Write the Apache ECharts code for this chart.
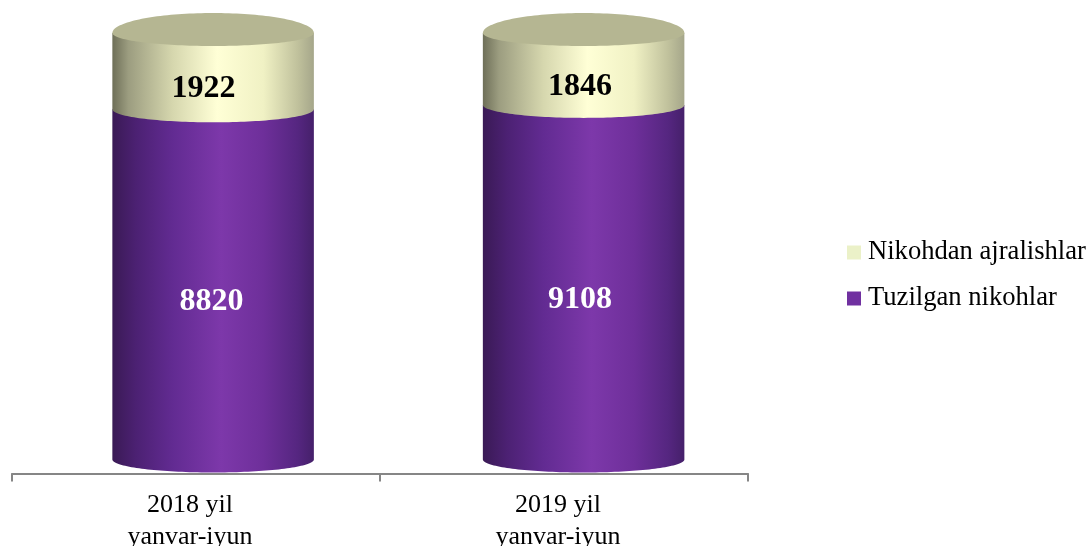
<!DOCTYPE html>
<html><head><meta charset="utf-8">
<style>html,body{margin:0;padding:0;background:#fff}#c{width:1090px;height:546px}</style>
<script src="https://cdn.jsdelivr.net/npm/echarts@6/dist/echarts.min.js"></script>
</head><body><div id="c"></div>
<script>
const categories = ['2018 yil\nyanvar-iyun', '2019 yil\nyanvar-iyun'];
const tuzilgan = [8820, 9108];
const ajralish = [1922, 1846];

const BASE = 3.5, RY_UP = 20, RY_DOWN = 13, SHIFT = 21;
const chart = echarts.init(document.getElementById('c'), null, {renderer:'canvas'});
const grad = (stops) => ({type:'linear',x:0,y:0,x2:1,y2:0,colorStops:stops.map(s=>({offset:s[0],color:s[1]}))});
const purpleGrad = grad([[0,'#3a1a55'],[0.12,'#4c2173'],[0.3,'#622b92'],[0.54,'#7d38aa'],[0.75,'#6e2f9a'],[0.92,'#552680'],[1,'#45206a']]);
const creamGrad = grad([[0,'#6e6f58'],[0.08,'#9c9d80'],[0.3,'#d6d7ae'],[0.52,'#ffffd6'],[0.75,'#f0f1c4'],[0.92,'#c0c19c'],[1,'#a5a68a']]);

function arc(cx, cy, rx, ry, from, to) {
  const pts = [];
  for (let i = 0; i <= 80; i++) {
    const t = from + (to - from) * i / 80;
    pts.push([cx + rx * Math.cos(t), cy + ry * Math.sin(t)]);
  }
  return pts;
}

function makeRender(fill, labelColor, cap, labelDx) {
  return function (params, api) {
    const band = api.size([1, 0])[0];
    const rx = band * 0.2738;
    const idx = api.value(0);
    const cx = api.coord([idx, 0])[0] + band * 0.0465 + idx * 2.5;
    const yLo = api.coord([0, api.value(1)])[1] + BASE;
    const yHi = api.coord([0, api.value(2)])[1] + BASE;
    const children = [{
      type:'polygon',
      shape:{points:[[cx - rx, yHi], [cx + rx, yHi]].concat(arc(cx, yLo, rx, RY_DOWN, 0, Math.PI))},
      style:{fill}
    }];
    if (cap) children.push({
      type:'polygon',
      shape:{points:arc(cx, yHi, rx, RY_DOWN, 0, Math.PI).concat(arc(cx, yHi, rx, RY_UP, Math.PI, 2 * Math.PI))},
      style:{fill:'#b5b692'}
    });
    children.push({
      type:'text',
      x:cx + labelDx[idx], y:(yLo + yHi) / 2 - BASE + SHIFT,
      style:{text:String(api.value(3)), fill:labelColor, align:'center', verticalAlign:'middle',
             font:'bold 32px "Liberation Serif"'}
    });
    return {type:'group', children};
  };
}
const rows = categories.map((c,i)=>{
  const total = tuzilgan[i] + ajralish[i];
  return {i, split: tuzilgan[i] / total};
});

chart.setOption({
  animation:false,
  backgroundColor:'#fff',
  textStyle:{fontFamily:'"Liberation Serif"'},
  grid:{left:12, width:736, top:29.5, height:426.5, containLabel:false, outerBoundsMode:'none'},
  xAxis:{type:'category', data:categories, offset:17.5, z:5,
    axisLine:{onZero:false,lineStyle:{color:'#868686',width:2}},
    axisTick:{show:true,alignWithLabel:false,length:8,lineStyle:{color:'#868686',width:2}},
    axisLabel:{color:'#000',fontSize:26,lineHeight:32,margin:16,padding:[0,12,0,0],fontFamily:'"Liberation Serif"',interval:0},
    splitLine:{show:false}},
  yAxis:{type:'value',min:0,max:1,show:false},
  legend:{left:842,top:234,orient:'vertical',icon:'rect',itemWidth:14,itemHeight:14,itemGap:19,
    data:['Nikohdan ajralishlar','Tuzilgan nikohlar'],
    textStyle:{color:'#000',fontSize:26.6,fontFamily:'"Liberation Serif"',padding:[0,0,0,2]}},
  series:[
    {type:'custom',name:'Tuzilgan nikohlar',itemStyle:{color:'#7030a0'},
     renderItem:makeRender(purpleGrad,'#fff',false,[-1.5,-3.5]),encode:{x:0,y:[1,2]},
     data:rows.map(r=>[r.i,0,r.split,tuzilgan[r.i]])},
    {type:'custom',name:'Nikohdan ajralishlar',itemStyle:{color:'#ebf1c8'},
     renderItem:makeRender(creamGrad,'#000',true,[-9.5,-3.5]),encode:{x:0,y:[1,2]},
     data:rows.map(r=>[r.i,r.split,1,ajralish[r.i]])}
  ]
});
</script></body></html>
